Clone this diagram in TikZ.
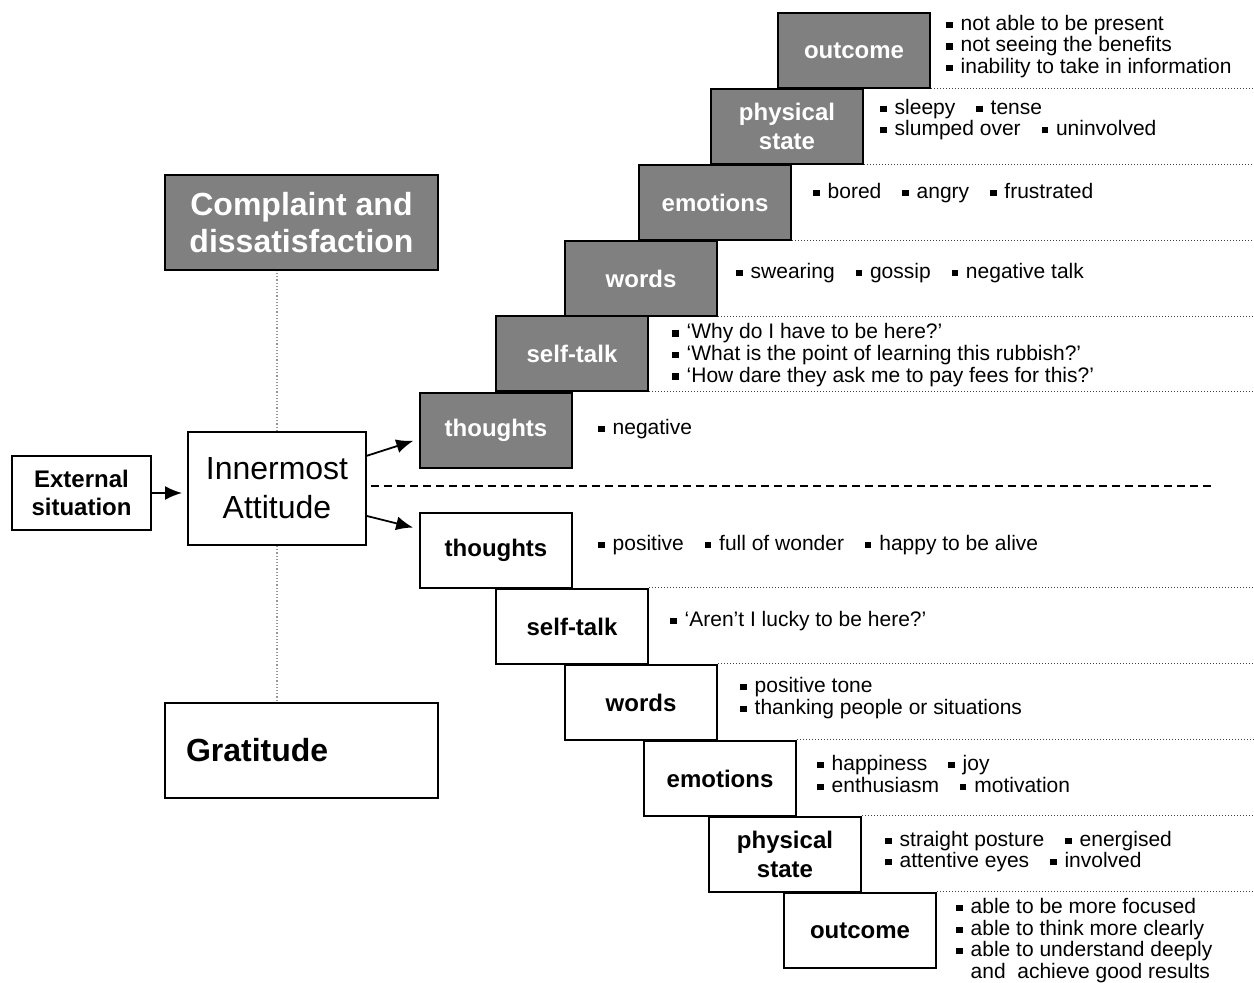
\documentclass[tikz,border=0pt]{standalone}
\usepackage{fontspec}
\setmainfont{Liberation Sans}
\usepackage{tikz}
\usetikzlibrary{arrows.meta,positioning}
\definecolor{boxgray}{RGB}{128,128,128}
\definecolor{linegray}{RGB}{150,150,150}
\newcommand{\sq}{\rule[0.11em]{0.3em}{0.3em}\hspace{0.38em}}

\begin{document}
\begin{tikzpicture}[x=0.5pt, y=-0.5pt, auto,
  negbox/.style={rectangle, draw=black, line width=1pt, fill=boxgray, text=white,
    minimum width=76pt, minimum height=37.5pt, inner sep=0pt, align=center,
    anchor=north west, font=\fontsize{12}{14.5}\selectfont\bfseries},
  posbox/.style={negbox, fill=white, text=black},
  items/.style={anchor=west, align=left, inner sep=0pt,
    font=\fontsize{10.5}{10.8}\selectfont},
  sep/.style={line width=0.5pt, black!75, dash pattern=on 0.5pt off 1pt},
  arr/.style={-{Latex[length=8.5pt,width=7pt]}, line width=0.9pt},
  ]
  \useasboundingbox (0,0) rectangle (1254,983);
  \coordinate (rim) at (1254,0);
  \coordinate (split) at (1213,486);

  %nodes
  \node at (81.5, 493) [rectangle, draw=black, line width=1pt, minimum width=69.5pt, minimum height=37pt, align=center, font=\fontsize{12}{14}\selectfont\bfseries] (ext) {External\\situation};
  \node at (277, 488.5) [rectangle, draw=black, line width=1pt, minimum width=89pt, minimum height=56.5pt, align=center, font=\fontsize{16}{19.5}\selectfont] (inner) {Innermost\\Attitude};
  \node at (301.5, 222.5) [rectangle, draw=black, line width=1pt, fill=boxgray, text=white, minimum width=136.5pt, minimum height=47.5pt, align=center, font=\fontsize{16}{18.5}\selectfont\bfseries] (complaint) {Complaint and\\dissatisfaction};
  \node at (301.5, 750.5) [rectangle, draw=black, line width=1pt, minimum height=47.5pt, inner xsep=10.5pt, text width=115.5pt, align=left, font=\fontsize{16}{19}\selectfont\bfseries] (gratitude) {Gratitude};

  % negative stairs
  \node at (777, 12) [negbox] (negout) {outcome};
  \node at (710, 88) [negbox] (negphys) {physical\\state};
  \node at (638, 164) [negbox] (negemo) {emotions};
  \node at (564, 240) [negbox] (negwords) {words};
  \node at (495, 315) [negbox] (negself) {self-talk};
  \node at (419, 392) [negbox] (negthought) {thoughts};

  \node at (946, 46.5) [items] (negoutlist) {\sq not able to be present\\\sq not seeing the benefits\\\sq inability to take in information};
  \node at (880, 119.5) [items] (negphyslist) {\sq sleepy\quad\sq tense\\\sq slumped over\quad\sq uninvolved};
  \node at (813, 193) [items] (negemolist) {\sq bored\quad\sq angry\quad\sq frustrated};
  \node at (736, 273) [items] (negwordslist) {\sq swearing\quad\sq gossip\quad\sq negative talk};
  \node at (672, 355) [items] (negselflist) {\sq ‘Why do I have to be here?’\\\sq ‘What is the point of learning this rubbish?’\\\sq ‘How dare they ask me to pay fees for this?’};
  \node at (598, 429) [items] (negthoughtlist) {\sq negative};

  % positive stairs
  \node at (419, 512) [posbox] (posthought) {thoughts};
  \node at (495, 588) [posbox] (posself) {self-talk};
  \node at (564, 664) [posbox] (poswords) {words};
  \node at (643, 740) [posbox] (posemo) {emotions};
  \node at (708, 816) [posbox] (posphys) {physical\\state};
  \node at (783, 892) [posbox] (posout) {outcome};

  \node at (598, 545) [items] (posthoughtlist) {\sq positive\quad\sq full of wonder\quad\sq happy to be alive};
  \node at (670, 621) [items] (posselflist) {\sq ‘Aren’t I lucky to be here?’};
  \node at (740, 698) [items] (poswordslist) {\sq positive tone\\\sq thanking people or situations};
  \node at (817, 774) [items] (posemolist) {\sq happiness\quad\sq joy\\\sq enthusiasm\quad\sq motivation};
  \node at (885, 851.5) [items] (posphyslist) {\sq straight posture\quad\sq energised\\\sq attentive eyes\quad\sq involved};
  \node at (956, 940.5) [items] (posoutlist) {\sq able to be more focused\\\sq able to think more clearly\\\sq able to understand deeply\\\hphantom{\sq}and~ achieve good results};

  %lines
  \foreach \n in {negout, negphys, negemo, negwords, negself}
    \draw[sep] (\n.south east) -- (\n.south east -| rim);
  \foreach \n in {posself, poswords, posemo, posphys, posout}
    \draw[sep] (\n.north east) -- (\n.north east -| rim);

  \draw[linegray, line width=0.6pt, dash pattern=on 0.6pt off 1pt] (inner.north) -- (inner.north |- complaint.south);
  \draw[linegray, line width=0.6pt, dash pattern=on 0.6pt off 1pt] (inner.south) -- (inner.south |- gratitude.north);
  \draw[line width=0.7pt, dash pattern=on 4pt off 2.5pt] ([xshift=2pt]inner.east |- split) -- (split);

  %arrows
  \draw[arr, shorten >=2.5pt] (ext.east) -- (ext.east -| inner.west);
  \draw[arr, shorten >=3pt] (inner.20) -- ([yshift=-4.25pt]negthought.west);
  \draw[arr, shorten >=3pt] (inner.-17) -- ([yshift=10.75pt]posthought.west);
\end{tikzpicture}
\end{document}
